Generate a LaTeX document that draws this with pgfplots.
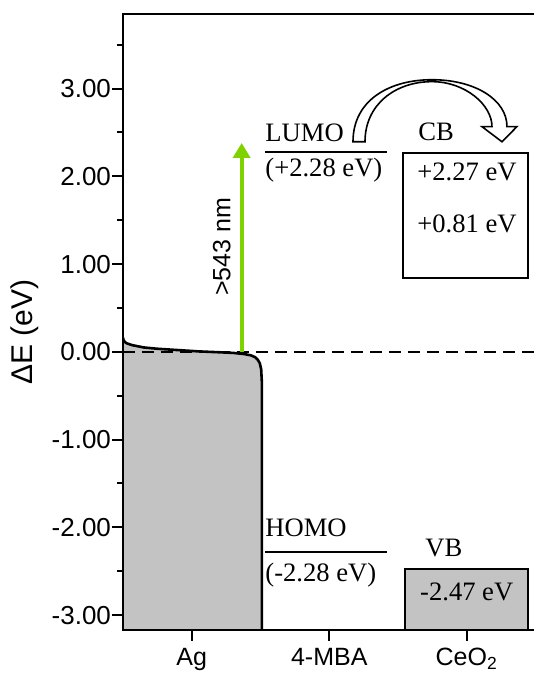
\documentclass[border=0pt]{standalone}
\usepackage{pgfplots}
\pgfplotsset{compat=1.18}
\usepackage{fontspec}
\setmainfont{Liberation Sans}
\newfontfamily\timesf{Liberation Serif}
\usetikzlibrary{arrows.meta}
\definecolor{fillgray}{RGB}{195,195,195}
\definecolor{limegreen}{RGB}{125,210,0}

\begin{document}
\begin{tikzpicture}
\begin{axis}[
  scale only axis, width=208.5pt, height=308pt,
  xmin=0.5, xmax=3.5327, ymin=-3.17, ymax=3.85,
  axis on top,
  axis line style={line width=1pt},
  xtick={1,2,3}, xticklabels={Ag,4-MBA,CeO\textsubscript{2}},
  ytick={-3,-2,-1,0,1,2,3},
  yticklabels={-3.00,-2.00,-1.00,0.00,1.00,2.00,3.00},
  minor ytick={-2.5,-1.5,-0.5,0.5,1.5,2.5,3.5},
  tick align=outside, xtick pos=bottom, ytick pos=left,
  major tick length=5.5pt, minor tick length=3pt,
  tick style={line width=1pt, black},
  /pgf/number format/assume math mode=true,
  xticklabel style={font=\fontsize{12.5}{15}\selectfont},
  yticklabel style={font=\fontsize{13}{15}\selectfont, xshift=3pt},
  ylabel={ΔE (eV)},
  every axis y label/.style={at={(rel axis cs:0,0.484)}, xshift=-49pt, rotate=90, anchor=center, font=\fontsize{15}{18}\selectfont},
]
\coordinate (bl) at (rel axis cs:0,0);
% Ag filled region
\addplot[fill=fillgray, draw=none] coordinates {
  (0.5,-3.17) (0.5,0.16) (0.505,0.13) (0.515,0.11) (0.53,0.095) (0.57,0.075) (0.65,0.05)
  (0.75,0.035) (0.9,0.02) (1.05,0.005) (1.2,-0.005) (1.3,-0.012) (1.38,-0.025)
  (1.43,-0.04) (1.46,-0.06) (1.48,-0.09) (1.495,-0.13) (1.505,-0.2) (1.51,-0.35)
  (1.51,-3.17)} -- cycle;
% VB box
\addplot[fill=fillgray, draw=black, line width=1pt] coordinates {
  (2.551,-3.17) (2.551,-2.47) (3.445,-2.47) (3.445,-3.17)};
% Fermi level dashed
\addplot[black, line width=1.2pt, dash pattern=on 6pt off 3.5pt] coordinates {(0.5,0) (3.5327,0)};
% Ag curve
\addplot[black, line width=1.3pt] coordinates {
  (0.5,0.16) (0.505,0.13) (0.515,0.11) (0.53,0.095) (0.57,0.075) (0.65,0.05)
  (0.75,0.035) (0.9,0.02) (1.05,0.005) (1.2,-0.005) (1.3,-0.012) (1.38,-0.025)
  (1.43,-0.04) (1.46,-0.06) (1.48,-0.09) (1.495,-0.13) (1.505,-0.2) (1.51,-0.35)
  (1.51,-3.17)};
% LUMO / HOMO lines
\addplot[black, line width=1pt] coordinates {(1.533,2.28) (2.418,2.28)};
\addplot[black, line width=1pt] coordinates {(1.533,-2.28) (2.418,-2.28)};
% CB box
\addplot[black, line width=1pt] coordinates {(2.536,2.27) (3.445,2.27) (3.445,0.84) (2.536,0.84)} -- cycle;
% green arrow
\draw[limegreen, line width=2pt, -{Triangle[width=8.5pt,length=7.5pt]}] (axis cs:1.363,0.0) -- (axis cs:1.363,2.38);
\node[rotate=90, font=\fontsize{12.5}{15}\selectfont] at (axis cs:1.218,1.197) {>543 nm};
% curved hollow arrow
\draw[line width=0.8pt, fill=white] (axis cs:2.1727,2.394) .. controls (axis cs:2.1727,2.873) and (axis cs:2.4418,3.101) .. (axis cs:2.747,3.101)
  .. controls (axis cs:3.06,3.101) and (axis cs:3.2927,2.873) .. (axis cs:3.2927,2.566)
  -- (axis cs:3.365,2.566) -- (axis cs:3.256,2.394) -- (axis cs:3.111,2.566) -- (axis cs:3.1836,2.566)
  .. controls (axis cs:3.1836,2.816) and (axis cs:2.987,3.079) .. (axis cs:2.747,3.079)
  .. controls (axis cs:2.478,3.079) and (axis cs:2.26,2.816) .. (axis cs:2.26,2.394) -- cycle;
% texts
\begin{scope}[every node/.style={font=\timesf\fontsize{13.3}{15}\selectfont, inner sep=0pt}]
\node[anchor=base west] at (axis cs:1.533,2.40) {LUMO};
\node[anchor=west] at (axis cs:1.533,2.075) {(+2.28 eV)};
\node[anchor=base west] at (axis cs:2.645,2.406) {CB};
\node[anchor=west] at (axis cs:2.638,2.056) {+2.27 eV};
\node[anchor=west] at (axis cs:2.638,1.46) {+0.81 eV};
\node[anchor=base west] at (axis cs:1.533,-2.107) {HOMO};
\node[anchor=west] at (axis cs:1.533,-2.543) {(-2.28 eV)};
\node[anchor=west] at (axis cs:2.696,-2.235) {VB};
\node[anchor=center] at (axis cs:3.0,-2.733) {-2.47 eV};
\end{scope}
\end{axis}
\pgfresetboundingbox
\useasboundingbox (bl) ++(-61.5pt,-23pt) rectangle ++(267pt,338pt);
\end{tikzpicture}
\end{document}
